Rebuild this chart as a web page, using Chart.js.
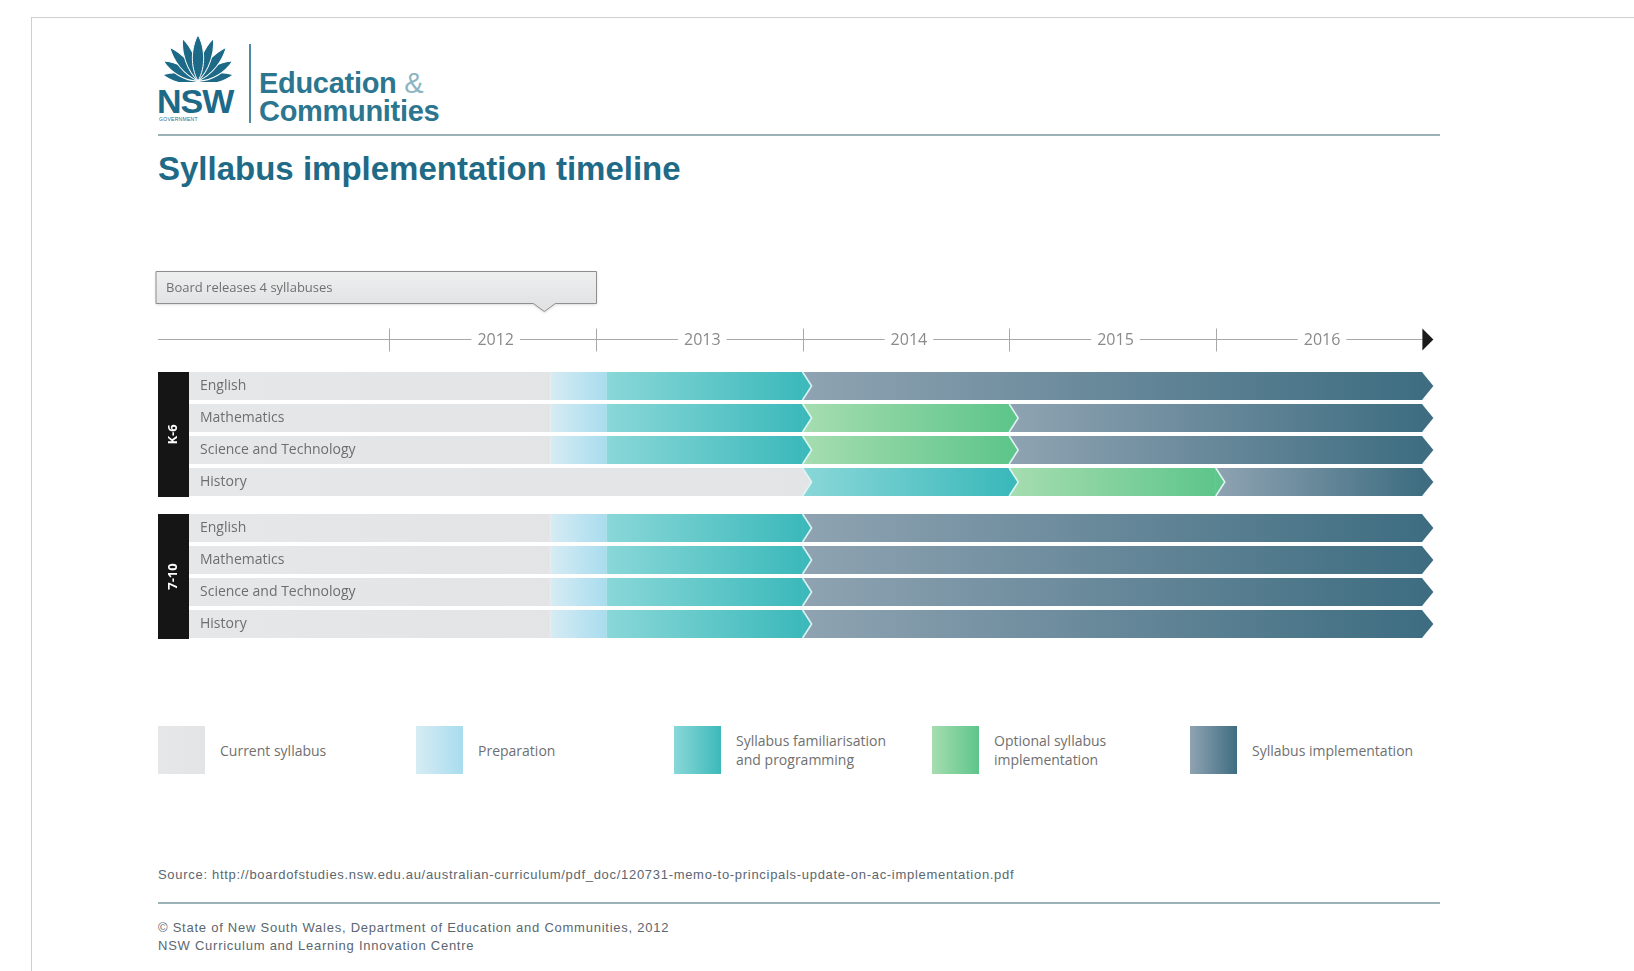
<!DOCTYPE html>
<html>
<head>
<meta charset="utf-8">
<title>Syllabus implementation timeline</title>
<script src="https://cdn.jsdelivr.net/npm/chart.js@4.4.0/dist/chart.umd.min.js"></script>
<style>
  html, body { margin: 0; padding: 0; background: #fff; }
  body { width: 1634px; height: 971px; position: relative; overflow: hidden; font-family: 'Liberation Sans', Arial, sans-serif; }
  .frame { position: absolute; left: 31px; top: 17px; width: 1610px; height: 960px; border-left: 1px solid #cfcfcf; border-top: 1px solid #cfcfcf; }
  .logo { position: absolute; left: 156px; top: 35px; }
  .nsw { position: absolute; left: 157px; top: 84px; font: bold 34px/34px 'Liberation Sans', Arial, sans-serif; color: #1d6a88; letter-spacing: -1px; }
  .gov { position: absolute; left: 159px; top: 116px; font: 5px/6px 'Liberation Sans', Arial, sans-serif; color: #1d6a88; letter-spacing: 0.3px; }
  .divider { position: absolute; left: 249px; top: 44px; width: 2px; height: 79px; background: #4f8aa0; }
  .dept { position: absolute; left: 259px; top: 69px; font: bold 29px/28px 'Liberation Sans', Arial, sans-serif; color: #2c7690; letter-spacing: -0.3px; }
  .dept span { color: #8db4c2; font-weight: normal; }
  .rule { position: absolute; left: 158px; width: 1282px; height: 2px; background: #9db1b9; }
  .title { position: absolute; left: 158px; top: 153px; margin: 0; font: bold 33px/32px 'Liberation Sans', Arial, sans-serif; color: #1f6a86; }
  .chart { position: absolute; left: 0; width: 1634px; }
  #legend { position: absolute; left: 158px; top: 726px; height: 48px; width: 1290px; }
  .item { position: absolute; top: 0; height: 48px; display: flex; align-items: center; }
  .swatch { width: 47px; height: 48px; margin-right: 15px; }
  .item span { font: 14px/19px 'Open Sans', sans-serif; color: #707070; white-space: pre-line; }
  .source { position: absolute; left: 158px; top: 868px; font: 13px/14px 'Liberation Sans', Arial, sans-serif; letter-spacing: 0.7px; color: #5b6670; }
  .copy { position: absolute; left: 158px; top: 919px; font: 13px/18px 'Liberation Sans', Arial, sans-serif; letter-spacing: 0.75px; color: #5b6670; }
</style>
</head>
<body>
<div class="frame"></div>

<svg class="logo" width="84" height="47" viewBox="0 0 84 47">
  <g fill="#1d6a88" stroke="#fff" stroke-width="1" transform="translate(42 46)">
    <path transform="rotate(-80)" d="M0 0 C -7 -10, -6 -24, 0 -36 C 6 -24, 7 -10, 0 0Z"/>
    <path transform="rotate(80)" d="M0 0 C -7 -10, -6 -24, 0 -36 C 6 -24, 7 -10, 0 0Z"/>
    <path transform="rotate(-60)" d="M0 0 C -7 -12, -6 -28, 0 -40 C 6 -28, 7 -12, 0 0Z"/>
    <path transform="rotate(60)" d="M0 0 C -7 -12, -6 -28, 0 -40 C 6 -28, 7 -12, 0 0Z"/>
    <path transform="rotate(-40)" d="M0 0 C -7 -14, -6 -31, 0 -44 C 6 -31, 7 -14, 0 0Z"/>
    <path transform="rotate(40)" d="M0 0 C -7 -14, -6 -31, 0 -44 C 6 -31, 7 -14, 0 0Z"/>
    <path transform="rotate(-20)" d="M0 0 C -7 -14, -6 -33, 0 -45 C 6 -33, 7 -14, 0 0Z"/>
    <path transform="rotate(20)" d="M0 0 C -7 -14, -6 -33, 0 -45 C 6 -33, 7 -14, 0 0Z"/>
    <path d="M0 0 C -8 -14, -7 -34, 0 -46 C 7 -34, 8 -14, 0 0Z"/>
  </g>
</svg>
<div class="nsw">NSW</div>
<div class="gov">GOVERNMENT</div>
<div class="divider"></div>
<div class="dept">Education <span>&amp;</span><br>Communities</div>
<div class="rule" style="top:134px"></div>
<h1 class="title">Syllabus implementation timeline</h1>

<div class="chart" style="top:250px;height:250px"><canvas id="k6"></canvas></div>
<div class="chart" style="top:505px;height:145px"><canvas id="y710"></canvas></div>

<div id="legend"></div>

<div class="source">Source: http://boardofstudies.nsw.edu.au/australian-curriculum/pdf_doc/120731-memo-to-principals-update-on-ac-implementation.pdf</div>
<div class="rule" style="top:902px;height:1.5px"></div>
<div class="copy">© State of New South Wales, Department of Education and Communities, 2012<br>NSW Curriculum and Learning Innovation Centre</div>

<script>
// Timeline data
const years = [2012, 2013, 2014, 2015, 2016];
const timelineEnd = 2017;
const subjects = ['English', 'Mathematics', 'Science and Technology', 'History'];
const groups = ['K-6', '7-10'];
const phases = ['Current syllabus', 'Preparation', 'Syllabus familiarisation and programming', 'Optional syllabus implementation', 'Syllabus implementation'];
const legendLabels = ['Current syllabus', 'Preparation', 'Syllabus familiarisation\nand programming', 'Optional syllabus\nimplementation', 'Syllabus implementation'];
const releaseDate = 2012.75;
const releaseText = 'Board releases 4 syllabuses';

// K-6: [start, end] of each phase for every subject (null = phase skipped)
const k6Current = [[2011, 2012.78], [2011, 2012.78], [2011, 2012.78], [2011, 2014]];
const k6Preparation = [[2012.78, 2013.05], [2012.78, 2013.05], [2012.78, 2013.05], null];
const k6Familiarisation = [[2013.05, 2014], [2013.05, 2014], [2013.05, 2014], [2014, 2015]];
const k6Optional = [null, [2014, 2015], [2014, 2015], [2015, 2016]];
const k6Implementation = [[2014, 2017], [2015, 2017], [2015, 2017], [2016, 2017]];

// 7-10
const y710Current = [[2011, 2012.78], [2011, 2012.78], [2011, 2012.78], [2011, 2012.78]];
const y710Preparation = [[2012.78, 2013.05], [2012.78, 2013.05], [2012.78, 2013.05], [2012.78, 2013.05]];
const y710Familiarisation = [[2013.05, 2014], [2013.05, 2014], [2013.05, 2014], [2013.05, 2014]];
const y710Optional = [null, null, null, null];
const y710Implementation = [[2014, 2017], [2014, 2017], [2014, 2017], [2014, 2017]];

// light -> dark colour of each phase
const phaseColors = [
    ['#e6e7e8', '#e3e4e5'],
    ['#d6ecf3', '#a9dcef'],
    ['#8ad7d8', '#3cb9bb'],
    ['#a6ddb0', '#5ec58b'],
    ['#8fa3b2', '#3e6d81']
];

const labelFont = "'Open Sans', 'Liberation Sans', sans-serif";

// Horizontal gradient across one bar
function phaseGradient(chart, phase, raw) {
    const [c0, c1] = phaseColors[phase];
    const xScale = chart.scales.x;
    if (!raw || !chart.chartArea || !xScale) return c1;
    const x0 = xScale.getPixelForValue(raw[0]);
    const x1 = xScale.getPixelForValue(raw[1]);
    if (!isFinite(x0) || !isFinite(x1)) return c1;
    const g = chart.ctx.createLinearGradient(x0, 0, x1, 0);
    g.addColorStop(0, c0);
    g.addColorStop(1, c1);
    return g;
}

// Arrow points at the end of the segments
const chevrons = {
    id: 'chevrons',
    afterDatasetsDraw(chart) {
        const ctx = chart.ctx;
        chart.data.labels.forEach((label, r) => {
            const segs = [];
            chart.data.datasets.forEach((ds, i) => {
                if (ds.data[r]) segs.push({ phase: i, start: ds.data[r][0], el: chart.getDatasetMeta(i).data[r] });
            });
            segs.sort((a, b) => a.start - b.start);
            segs.forEach((s, k) => {
                const next = segs[k + 1];
                // preparation blends softly into its neighbours
                if (next && (s.phase === 1 || next.phase === 1)) return;
                const { x, y, height } = s.el;
                const h = height / 2;
                const d = next ? 9 : 11;
                ctx.save();
                ctx.beginPath();
                ctx.moveTo(x - 0.5, y - h);
                ctx.lineTo(x + d, y);
                ctx.lineTo(x - 0.5, y + h);
                ctx.closePath();
                ctx.fillStyle = s.el.options.backgroundColor;
                ctx.fill();
                if (next) {
                    ctx.beginPath();
                    ctx.moveTo(x, y - h);
                    ctx.lineTo(x + d, y);
                    ctx.lineTo(x, y + h);
                    ctx.strokeStyle = 'rgba(226, 246, 246, 0.95)';
                    ctx.lineWidth = 1.6;
                    ctx.stroke();
                }
                ctx.restore();
            });
        });
    }
};

// Black box with the stage name
const groupBox = {
    id: 'groupBox',
    afterDraw(chart, args, opts) {
        const { ctx, chartArea } = chart;
        const meta = chart.getDatasetMeta(0);
        const first = meta.data[0];
        const last = meta.data[meta.data.length - 1];
        const top = first.y - first.height / 2;
        const bottom = last.y + last.height / 2 + 1;
        ctx.save();
        ctx.fillStyle = '#151515';
        ctx.fillRect(chartArea.left, top, 31, bottom - top);
        ctx.translate(chartArea.left + 15.5, (top + bottom) / 2);
        ctx.rotate(-Math.PI / 2);
        ctx.fillStyle = '#ffffff';
        ctx.font = 'bold 13px ' + labelFont;
        ctx.textAlign = 'center';
        ctx.textBaseline = 'middle';
        ctx.fillText(opts.label, 0, 0);
        ctx.restore();
    }
};

// Year axis with arrow and the release callout
const timelineAxis = {
    id: 'timelineAxis',
    afterDraw(chart) {
        const { ctx, chartArea } = chart;
        const xs = chart.scales.x;
        const y = chartArea.top - 30.5;
        const xEnd = xs.getPixelForValue(timelineEnd);
        ctx.save();
        ctx.strokeStyle = '#a8a8a8';
        ctx.lineWidth = 1;
        ctx.beginPath();
        ctx.moveTo(chartArea.left, y);
        ctx.lineTo(xEnd, y);
        ctx.stroke();
        years.forEach(yr => {
            const px = Math.round(xs.getPixelForValue(yr)) + 0.5;
            ctx.beginPath();
            ctx.moveTo(px, y - 11);
            ctx.lineTo(px, y + 12);
            ctx.stroke();
        });
        ctx.font = '16px ' + labelFont;
        ctx.textAlign = 'center';
        ctx.textBaseline = 'middle';
        years.forEach(yr => {
            const px = xs.getPixelForValue(yr + 0.5) + 3;
            const w = ctx.measureText(String(yr)).width + 12;
            ctx.fillStyle = '#ffffff';
            ctx.fillRect(px - w / 2, y - 9, w, 18);
            ctx.fillStyle = '#8a8a8a';
            ctx.fillText(String(yr), px, y + 1);
        });
        ctx.fillStyle = '#1b1b1b';
        ctx.beginPath();
        ctx.moveTo(xEnd, y - 11);
        ctx.lineTo(xEnd + 11, y);
        ctx.lineTo(xEnd, y + 11);
        ctx.closePath();
        ctx.fill();

        // callout box pointing at the release date
        const bx0 = chartArea.left - 2;
        const bx1 = Math.round(xs.getPixelForValue(2013)) + 0.5;
        const by0 = chartArea.top - 98.5;
        const by1 = chartArea.top - 66.5;
        const px = xs.getPixelForValue(releaseDate);
        ctx.beginPath();
        ctx.moveTo(bx0, by0);
        ctx.lineTo(bx1, by0);
        ctx.lineTo(bx1, by1);
        ctx.lineTo(px + 11, by1);
        ctx.lineTo(px, by1 + 8);
        ctx.lineTo(px - 11, by1);
        ctx.lineTo(bx0, by1);
        ctx.closePath();
        ctx.shadowColor = 'rgba(0,0,0,0.18)';
        ctx.shadowBlur = 3;
        ctx.shadowOffsetY = 1;
        const g = ctx.createLinearGradient(0, by0, 0, by1);
        g.addColorStop(0, '#eeefef');
        g.addColorStop(1, '#e2e3e4');
        ctx.fillStyle = g;
        ctx.fill();
        ctx.shadowColor = 'transparent';
        ctx.strokeStyle = '#8e8e8e';
        ctx.stroke();
        ctx.fillStyle = '#707070';
        ctx.font = '13px ' + labelFont;
        ctx.textAlign = 'left';
        ctx.fillText(releaseText, bx0 + 10, (by0 + by1) / 2 + 1);
        ctx.restore();
    }
};

function buildDatasets(rows) {
    return phases.map((name, i) => ({
        label: name,
        data: rows[i],
        grouped: false,
        categoryPercentage: 1,
        barPercentage: 0.875,
        borderWidth: 0,
        borderSkipped: false,
        backgroundColor: ctx => phaseGradient(ctx.chart, i, ctx.raw)
    }));
}

function createTimeline(canvasId, group, rows, padding, extraPlugins) {
    const ctx = document.getElementById(canvasId).getContext('2d');
    return new Chart(ctx, {
        type: 'bar',
        data: {
            labels: subjects,
            datasets: buildDatasets(rows)
        },
        options: {
            indexAxis: 'y',
            responsive: true,
            maintainAspectRatio: false,
            animation: false,
            layout: { padding: padding },
            scales: {
                x: {
                    type: 'linear',
                    min: 2010.88,
                    max: timelineEnd,
                    display: false
                },
                y: {
                    grid: { display: false, drawTicks: false },
                    border: { display: false },
                    ticks: {
                        z: 1,
                        mirror: true,
                        padding: 42,
                        color: '#6e6e6e',
                        font: { family: labelFont, size: 14 }
                    },
                    // labels sit inside the bars, so the axis takes no room
                    afterFit(scale) {
                        scale.width = 0;
                        scale.paddingTop = 0;
                        scale.paddingBottom = 0;
                    }
                }
            },
            plugins: {
                legend: { display: false },
                tooltip: { enabled: false },
                groupBox: { label: group }
            }
        },
        plugins: [chevrons, groupBox].concat(extraPlugins)
    });
}

createTimeline('k6', groups[0],
    [k6Current, k6Preparation, k6Familiarisation, k6Optional, k6Implementation],
    { left: 158, right: 211.6, top: 120, bottom: 2 }, [timelineAxis]);

createTimeline('y710', groups[1],
    [y710Current, y710Preparation, y710Familiarisation, y710Optional, y710Implementation],
    { left: 158, right: 211.6, top: 7, bottom: 10 }, []);

// Legend
const legend = document.getElementById('legend');
legendLabels.forEach((text, i) => {
    const item = document.createElement('div');
    item.className = 'item';
    item.style.left = (i * 258) + 'px';
    const sw = document.createElement('div');
    sw.className = 'swatch';
    sw.style.background = `linear-gradient(to right, ${phaseColors[i][0]}, ${phaseColors[i][1]})`;
    const label = document.createElement('span');
    label.textContent = text;
    item.appendChild(sw);
    item.appendChild(label);
    legend.appendChild(item);
});
</script>
</body>
</html>
